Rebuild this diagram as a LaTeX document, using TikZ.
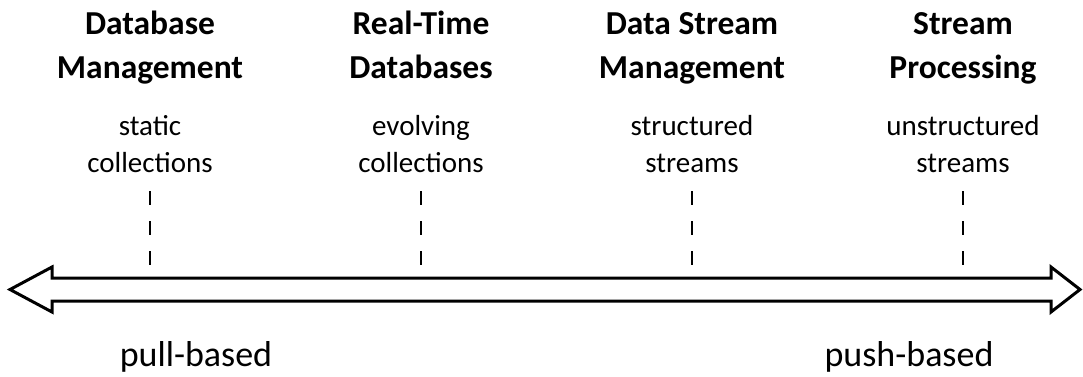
\documentclass[tikz,border=0pt]{standalone}
\usepackage{fontspec}
\setmainfont{Carlito}
\begin{document}
\begin{tikzpicture}[x=1pt,y=-1pt,
  head/.style={font=\bfseries\fontsize{33.5}{44}\selectfont, align=center, anchor=base, inner sep=0pt},
  sub/.style={font=\fontsize{29}{37}\selectfont, align=center, anchor=base, inner sep=0pt},
  side/.style={font=\fontsize{36}{40}\selectfont, anchor=base, inner sep=0pt},
  tick/.style={line width=2.2pt, dash pattern=on 14pt off 16pt},
  bigarrow/.style={line width=3pt, line join=miter}]
\useasboundingbox (0,0) rectangle (1083,376);
% double-headed hollow arrow
\draw[bigarrow] (10,289.5) -- (52,267) -- (52,278) -- (1051,278) -- (1051,267)
  -- (1080,289.5) -- (1051,312) -- (1051,301) -- (52,301) -- (52,312) -- cycle;
% columns
\node[head] (h1) at (150,78) {Database\\Management};
\node[head] (h2) at (421,78) {Real-Time\\Databases};
\node[head] (h3) at (692,78) {Data Stream\\Management};
\node[head] (h4) at (963,78) {Stream\\Processing};
\node[sub] (s1) at (150,172) {static\\collections};
\node[sub] (s2) at (421,172) {evolving\\collections};
\node[sub] (s3) at (692,172) {structured\\streams};
\node[sub] (s4) at (963,172) {unstructured\\streams};
\foreach \i/\x in {1/150,2/421,3/692,4/963}{
  \coordinate (t\i) at (\x,191);
  \coordinate (b\i) at (\x,267);
  \draw[tick] (t\i) -- (b\i);
}
\node[side] (pull) at (196,366) {pull-based};
\node[side] (push) at (909,366) {push-based};
\end{tikzpicture}
\end{document}
